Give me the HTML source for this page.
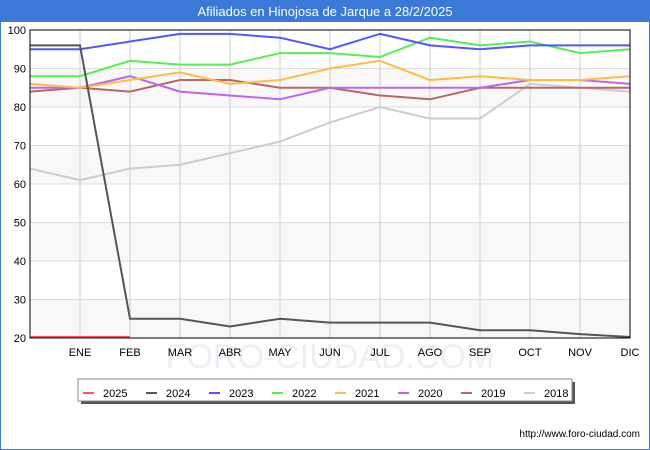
<!DOCTYPE html>
<html><head><meta charset="utf-8"><style>
body{margin:0;width:650px;height:450px;overflow:hidden;font-family:"Liberation Sans","DejaVu Sans",sans-serif;background:#fff}
#wrap{position:absolute;left:0;top:0;width:648px;height:448px;border:1px solid #3c78d8}
</style></head><body>
<div id="wrap"></div>
<svg id="chart" width="650" height="450" style="position:absolute;left:0;top:0">
<rect x="0" y="0" width="650" height="22" fill="#3c78d8"/>
<text x="325" y="16" text-anchor="middle" fill="#fff" font-size="13">Afiliados en Hinojosa de Jarque a 28/2/2025</text>
<text x="330" y="368" text-anchor="middle" fill="#eeeef4" font-size="34">FORO-CIUDAD.COM</text>
<g id="grid"></g><g id="series"></g><g id="axes"></g><g id="legend"></g>
<text x="640" y="437" text-anchor="end" font-size="10" fill="#000">http://www.foro-ciudad.com</text>
</svg>
<script>
const months=["","ENE","FEB","MAR","ABR","MAY","JUN","JUL","AGO","SEP","OCT","NOV","DIC"];
const yTicks=[20,30,40,50,60,70,80,90,100];
const seriesNames=["2025","2024","2023","2022","2021","2020","2019","2018"];
const seriesColors=["#ff5555","#555555","#5555ff","#55ee55","#ffbb44","#bb66ee","#bb6666","#cccccc"];
const v2025=[20,20,20];
const v2024=[96,96,25,25,23,25,24,24,24,22,22,21,20];
const v2023=[95,95,97,99,99,98,95,99,96,95,96,96,96];
const v2022=[88,88,92,91,91,94,94,93,98,96,97,94,95];
const v2021=[86,85,87,89,86,87,90,92,87,88,87,87,88];
const v2020=[85,85,88,84,83,82,85,85,85,85,87,87,86];
const v2019=[84,85,84,87,87,85,85,83,82,85,85,85,85];
const v2018=[64,61,64,65,68,71,76,80,77,77,86,85,84];
const allVals=[v2025,v2024,v2023,v2022,v2021,v2020,v2019,v2018];
const L=30,R=630,T=30,B=338,yMin=20,yMax=100;
const xS=i=>L+i*(R-L)/12;
const yS=v=>B-(v-yMin)*(B-T)/(yMax-yMin);
const NS="http://www.w3.org/2000/svg";
function mk(t,a,p){const e=document.createElementNS(NS,t);for(const k in a)e.setAttribute(k,a[k]);p.appendChild(e);return e;}
const grid=document.getElementById('grid');
for(let k=0;k<yTicks.length-1;k++){
 if(k%2==0){const r=mk('rect',{x:L,y:yS(yTicks[k+1]),width:R-L,height:yS(yTicks[k])-yS(yTicks[k+1]),fill:'#f8f8f8'},grid);
 
 }
}
yTicks.forEach(t=>{const l=mk('line',{x1:L,x2:R,y1:yS(t),y2:yS(t),stroke:'#dddddd'},grid);
 
 
 const tx=mk('text',{x:L-4,y:yS(t)+4,'text-anchor':'end','font-size':11},grid);tx.textContent=t;
 
 });
months.forEach((m,i)=>{if(i==0)return;
 const l=mk('line',{x1:xS(i),x2:xS(i),y1:T,y2:B,stroke:'#cccccc'},grid);
 
 
 const tx=mk('text',{x:xS(i),y:B+18,'text-anchor':'middle','font-size':11},grid);tx.textContent=m;
 
 });
const ser=document.getElementById('series');
for(let s=allVals.length-1;s>=0;s--){
 const pts=allVals[s].map((v,i)=>xS(i)+','+(Math.min(yS(v),B-1))).join(' ');
 const pl=mk('polyline',{points:pts,fill:'none',stroke:seriesColors[s],'stroke-width':2},ser);
 
 
}
const ax=document.getElementById('axes');
const fr=mk('rect',{x:L,y:T,width:R-L,height:B-T,fill:'none',stroke:'#000'},ax);


const lg=document.getElementById('legend');
mk('rect',{x:81,y:382,width:494,height:22,fill:'#555'},lg);
const box=mk('rect',{x:78,y:379,width:494,height:22,fill:'#fff',stroke:'#888'},lg);


seriesNames.forEach((n,i)=>{const x=83+i*63;
 const g=mk('g',{},lg);
 
 
 mk('line',{x1:x,x2:x+11,y1:393,y2:393,stroke:seriesColors[i],'stroke-width':2},g);
 const t=mk('text',{x:x+20,y:397,'font-size':11},g);t.textContent=n;});
</script>
</body></html>
